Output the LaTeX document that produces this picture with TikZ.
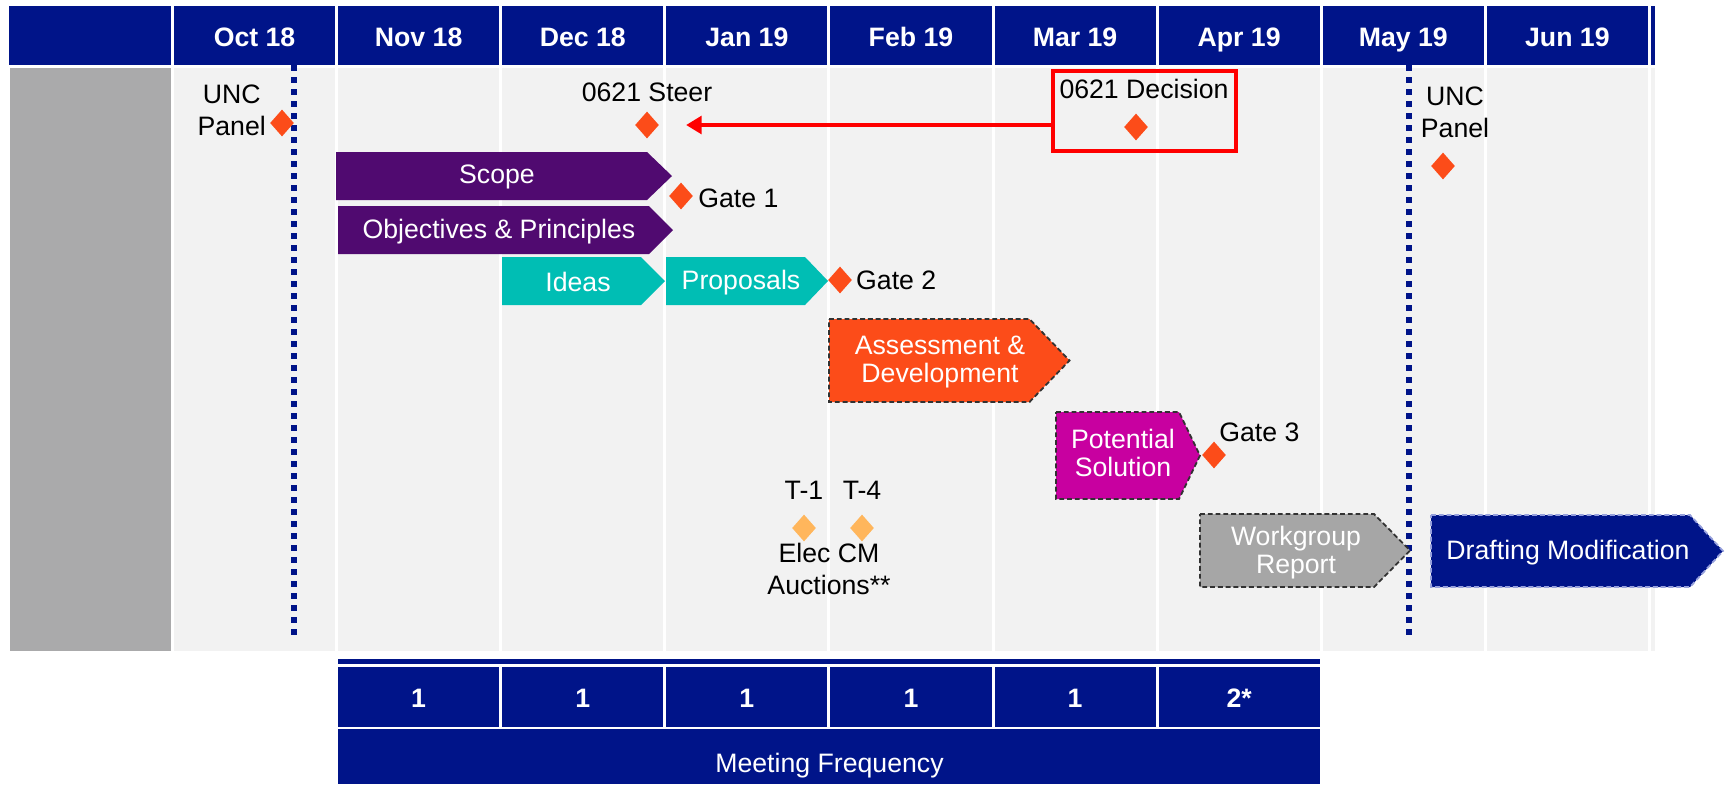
\documentclass[tikz,border=0pt]{standalone}
\usepackage{fontspec}
\setmainfont{Liberation Sans}
\usetikzlibrary{shapes.geometric,arrows.meta,positioning}

\definecolor{navy}{RGB}{0,20,137}
\definecolor{bodygrey}{RGB}{242,242,242}
\definecolor{sidegrey}{RGB}{170,170,171}
\definecolor{scopepurple}{RGB}{80,10,112}
\definecolor{ideateal}{RGB}{0,190,180}
\definecolor{gateorange}{RGB}{252,76,25}
\definecolor{solmagenta}{RGB}{200,0,160}
\definecolor{reportgrey}{RGB}{166,166,166}
\definecolor{auctionorange}{RGB}{255,182,92}
\definecolor{dashgrey}{RGB}{50,50,50}
\definecolor{draftedge}{RGB}{150,160,220}

\tikzset{
  hdtext/.style={text=white, font=\fontsize{12}{14.4}\selectfont\bfseries, inner sep=0pt, anchor=base},
  lbl/.style={font=\fontsize{12}{14.4}\selectfont, inner sep=0pt, align=center},
  bartext/.style={text=white, font=\fontsize{12}{12.6}\selectfont, inner sep=0pt, align=center},
  milestone/.style={diamond, fill=gateorange, minimum width=10.8pt, minimum height=12.2pt, inner sep=0pt},
  auction/.style={milestone, fill=auctionorange},
  panelline/.style={draw=navy, line width=2.7pt, dash pattern=on 2.7pt off 2.7pt},
  stagebox/.style={draw=dashgrey, line width=0.8pt, dash pattern=on 2.2pt off 1.3pt},
  decbox/.style={draw=red, line width=1.8pt, minimum width=82.4pt, minimum height=36pt, inner sep=0pt},
  decline/.style={draw=red, line width=1.6pt, -{Triangle[length=7pt,width=8pt]}, shorten >=12pt},
}
% stage arrow: style, left x, tip x, top y, bottom y, tip depth
\newcommand{\stage}[6]{%
  \path[#1] (#2,#4) -- ({#3-#6},#4) -- (#3,{(#4+#5)/2}) -- ({#3-#6},#5) -- (#2,#5) -- cycle;}
\def\colx{171}
\def\colw{164.1}

\begin{document}
\begin{tikzpicture}[x=0.45pt, y=-0.45pt]
  \useasboundingbox (0,0) rectangle (1726,786);
  % months
  \fill[navy] (9,6) rectangle (\colx,65);
  \fill[sidegrey] (10,68) rectangle (\colx,651);
  \foreach \m [count=\k from 0] in {Oct 18,Nov 18,Dec 18,Jan 19,Feb 19,Mar 19,Apr 19,May 19,Jun 19} {
    \fill[navy] ({\colx+\colw*\k+3},6) rectangle ({\colx+\colw*(\k+1)},65);
    \fill[bodygrey] ({\colx+\colw*\k+3},68) rectangle ({\colx+\colw*(\k+1)},651);
    \node[hdtext] (m\k) at ({\colx+\colw*(\k+0.5)+1.5},46.5) {\m};
  }
  \fill[navy] (1651,6) rectangle (1655,65);
  \fill[bodygrey] (1651,68) rectangle (1655,651);

  % meeting frequency
  \fill[navy] (338,659) rectangle ({\colx+\colw*7},664);
  \foreach \n [count=\k from 1] in {1,1,1,1,1,2*} {
    \fill[navy] ({\colx+\colw*\k+3},667) rectangle ({\colx+\colw*(\k+1)},727);
    \node[hdtext] (f\k) at ({\colx+\colw*(\k+0.5)+1.5},707) {\n};
  }
  \fill[navy] (338,729) rectangle ({\colx+\colw*7},784);
  \node[hdtext, font=\fontsize{12}{14.4}\selectfont] (freq) at (829.5,772) {Meeting Frequency};

  % UNC panels
  \draw[panelline] (294,65) -- (294,641);
  \draw[panelline] (1409,65) -- (1409,641);

  % stages
  \stage{fill=scopepurple}{336}{672}{152}{200}{25}
  \node[bartext, anchor=base] (scope) at (497,183) {Scope};
  \stage{fill=scopepurple}{338}{673}{206}{254}{24}
  \node[bartext, anchor=base] (objectives) at (499,238) {Objectives \& Principles};
  \stage{fill=ideateal}{502}{665}{257}{305}{24}
  \node[bartext, anchor=base] (ideas) at (578,291) {Ideas};
  \stage{fill=ideateal}{666}{828}{257}{305}{23}
  \node[bartext, anchor=base] (proposals) at (741,289) {Proposals};
  \stage{fill=gateorange, stagebox}{829}{1069.5}{319}{402}{40}
  \node[bartext] (assess) at (940,362) {Assessment \&\\Development};
  \stage{fill=solmagenta, stagebox}{1056}{1200}{412}{499}{21}
  \node[bartext] (solution) at (1123,453) {Potential\\Solution};
  \stage{fill=reportgrey, stagebox}{1200}{1410}{514}{587}{36}
  \node[bartext] (report) at (1296,552.6) {Workgroup\\Report};
  \stage{fill=navy, stagebox, draw=draftedge}{1431}{1723}{515}{587}{33}
  \node[bartext, anchor=base] (drafting) at (1568,559) {Drafting Modification};

  % milestones
  \node[milestone] (uncoct) at (282,123) {};
  \node[lbl, left=1.5pt of uncoct, yshift=5.6pt] (uncoctl) {UNC\\Panel};
  \node[milestone] (steer) at (647,125) {};
  \node[lbl, above=4pt of steer] (steerl) {0621 Steer};
  \node[milestone] (gate1) at (681,196) {};
  \node[lbl, right=2pt of gate1, yshift=-1pt] (gate1l) {Gate 1};
  \node[milestone] (gate2) at (840,280) {};
  \node[lbl, right=1.5pt of gate2] (gate2l) {Gate 2};
  \node[milestone] (gate3) at (1214,455) {};
  \node[lbl, anchor=base west] (gate3l) at ([xshift=2.2pt]gate3.north) {Gate 3};
  \node[milestone] (uncmay) at (1443,166) {};
  \node[lbl, above=6pt of uncmay, xshift=5.4pt] (uncmayl) {UNC\\Panel};
  \node[auction] (t1) at (804,528) {};
  \node[auction] (t4) at (862,528) {};
  \node[lbl, above=6.5pt of t1] (t1l) {T-1};
  \node[lbl, above=6.5pt of t4] (t4l) {T-4};
  \node[lbl] (auctions) at (829,569) {Elec CM\\Auctions**};

  % decision
  \node[decbox] (decibox) at (1144.5,111) {};
  \node[lbl, anchor=base] (decisionl) at (1144,98) {0621 Decision};
  \node[milestone] (decision) at (1136,127) {};
  \draw[decline] (steer -| decibox.west) -- (steer);
\end{tikzpicture}
\end{document}
